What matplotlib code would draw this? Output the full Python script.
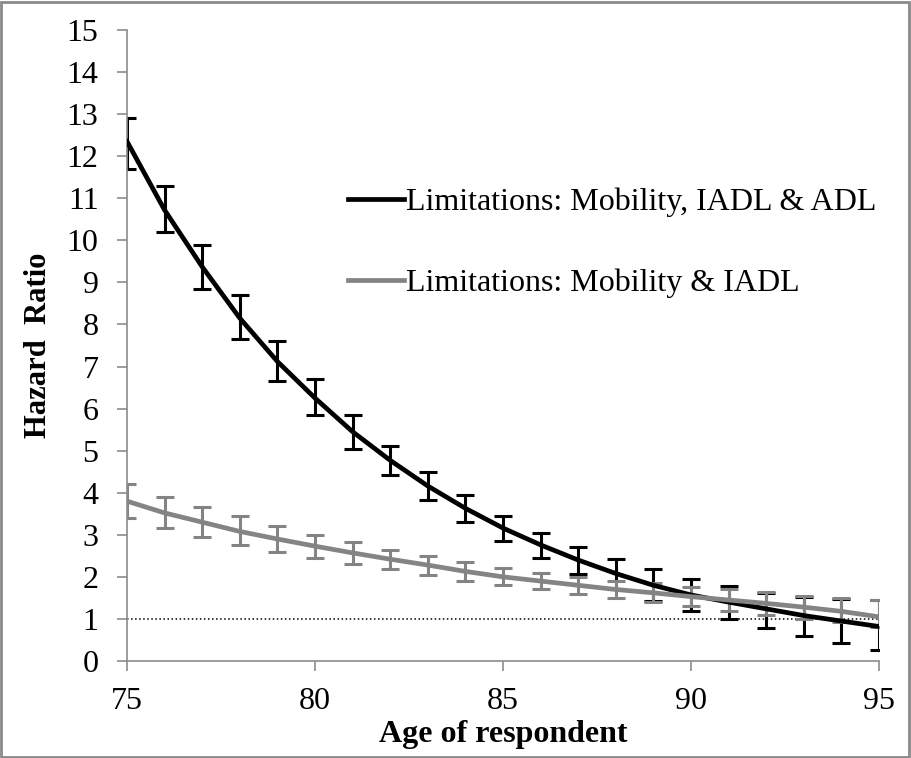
import numpy as np
import matplotlib.pyplot as plt
from matplotlib.patches import Rectangle

plt.rcParams['font.family'] = ['Liberation Serif', 'DejaVu Serif']

ages = [75, 76, 77, 78, 79, 80, 81, 82, 83, 84, 85, 86, 87, 88, 89, 90, 91, 92, 93, 94, 95]

# Limitations: Mobility, IADL & ADL
hr_adl = [12.35, 10.72, 9.37, 8.15, 7.12, 6.25, 5.45, 4.77, 4.16, 3.63, 3.16,
          2.76, 2.40, 2.08, 1.80, 1.57, 1.40, 1.24, 1.08, 0.95, 0.82]
lo_adl = [11.7, 10.2, 8.85, 7.65, 6.65, 5.85, 5.05, 4.42, 3.82, 3.30, 2.86,
          2.45, 2.06, 1.72, 1.42, 1.20, 1.00, 0.78, 0.60, 0.42, 0.26]
hi_adl = [12.9, 11.3, 9.9, 8.7, 7.6, 6.7, 5.85, 5.1, 4.5, 3.95, 3.45,
          3.05, 2.72, 2.42, 2.18, 1.95, 1.78, 1.62, 1.52, 1.48, 1.45]

# Limitations: Mobility & IADL
hr_iadl = [3.80, 3.52, 3.30, 3.08, 2.90, 2.73, 2.57, 2.42, 2.28, 2.13, 2.00,
           1.90, 1.80, 1.70, 1.62, 1.53, 1.45, 1.37, 1.28, 1.18, 1.05]
lo_iadl = [3.40, 3.15, 2.95, 2.75, 2.60, 2.45, 2.30, 2.18, 2.05, 1.90, 1.80,
           1.70, 1.60, 1.50, 1.40, 1.30, 1.20, 1.10, 1.00, 0.92, 0.80]
hi_iadl = [4.20, 3.90, 3.65, 3.45, 3.20, 3.00, 2.83, 2.65, 2.50, 2.35, 2.20,
           2.10, 2.00, 1.90, 1.85, 1.75, 1.70, 1.64, 1.55, 1.50, 1.45]

fig = plt.figure(figsize=(9.11, 7.58), dpi=100)
ax = fig.add_axes([127 / 911, 1 - 661 / 758, (879 - 127) / 911, (661 - 30) / 758])

ax.axhline(1, color='black', linestyle=':', linewidth=1.1, zorder=1)

def draw(h, lo, hi, color, label):
    h = np.array(h)
    yerr = [h - np.array(lo), np.array(hi) - h]
    ax.errorbar(ages, h, yerr=yerr, fmt='none', ecolor=color, elinewidth=2.2,
                capsize=6.5, capthick=2.2, zorder=2)
    ax.plot(ages, h, color=color, linewidth=3.4, label=label, zorder=3)

draw(hr_adl, lo_adl, hi_adl, 'black', 'Limitations: Mobility, IADL & ADL')
draw(hr_iadl, lo_iadl, hi_iadl, '#848484', 'Limitations: Mobility & IADL')

ax.set_xlim(75, 95)
ax.set_ylim(0, 15)
ax.set_xticks([75, 80, 85, 90, 95])
ax.set_yticks(range(0, 16))
for s in ['top', 'right']:
    ax.spines[s].set_visible(False)
for s in ['left', 'bottom']:
    ax.spines[s].set_color('#8c8c8c')
    ax.spines[s].set_linewidth(1.2)
ax.tick_params(axis='both', colors='#8c8c8c', labelcolor='black', labelsize=23,
               length=7.5, width=1.2, direction='out')
ax.tick_params(axis='x', pad=11)
ax.tick_params(axis='y', pad=13)

ax.set_xlabel('Age of respondent', fontsize=23, fontweight='bold', labelpad=3)
ax.set_ylabel('Hazard  Ratio', fontsize=22, fontweight='bold', labelpad=10)

ax.legend(loc='upper left', bbox_to_anchor=(0.277, 0.77), frameon=False, fontsize=23,
          handlelength=1.75, handletextpad=0.05, labelspacing=1.6, borderaxespad=0)

fig.add_artist(Rectangle((0.001, 0.001), 0.997, 0.997, transform=fig.transFigure,
                         fill=False, edgecolor='#8a8a8a', linewidth=2))

fig.savefig('out.png', dpi=100)
